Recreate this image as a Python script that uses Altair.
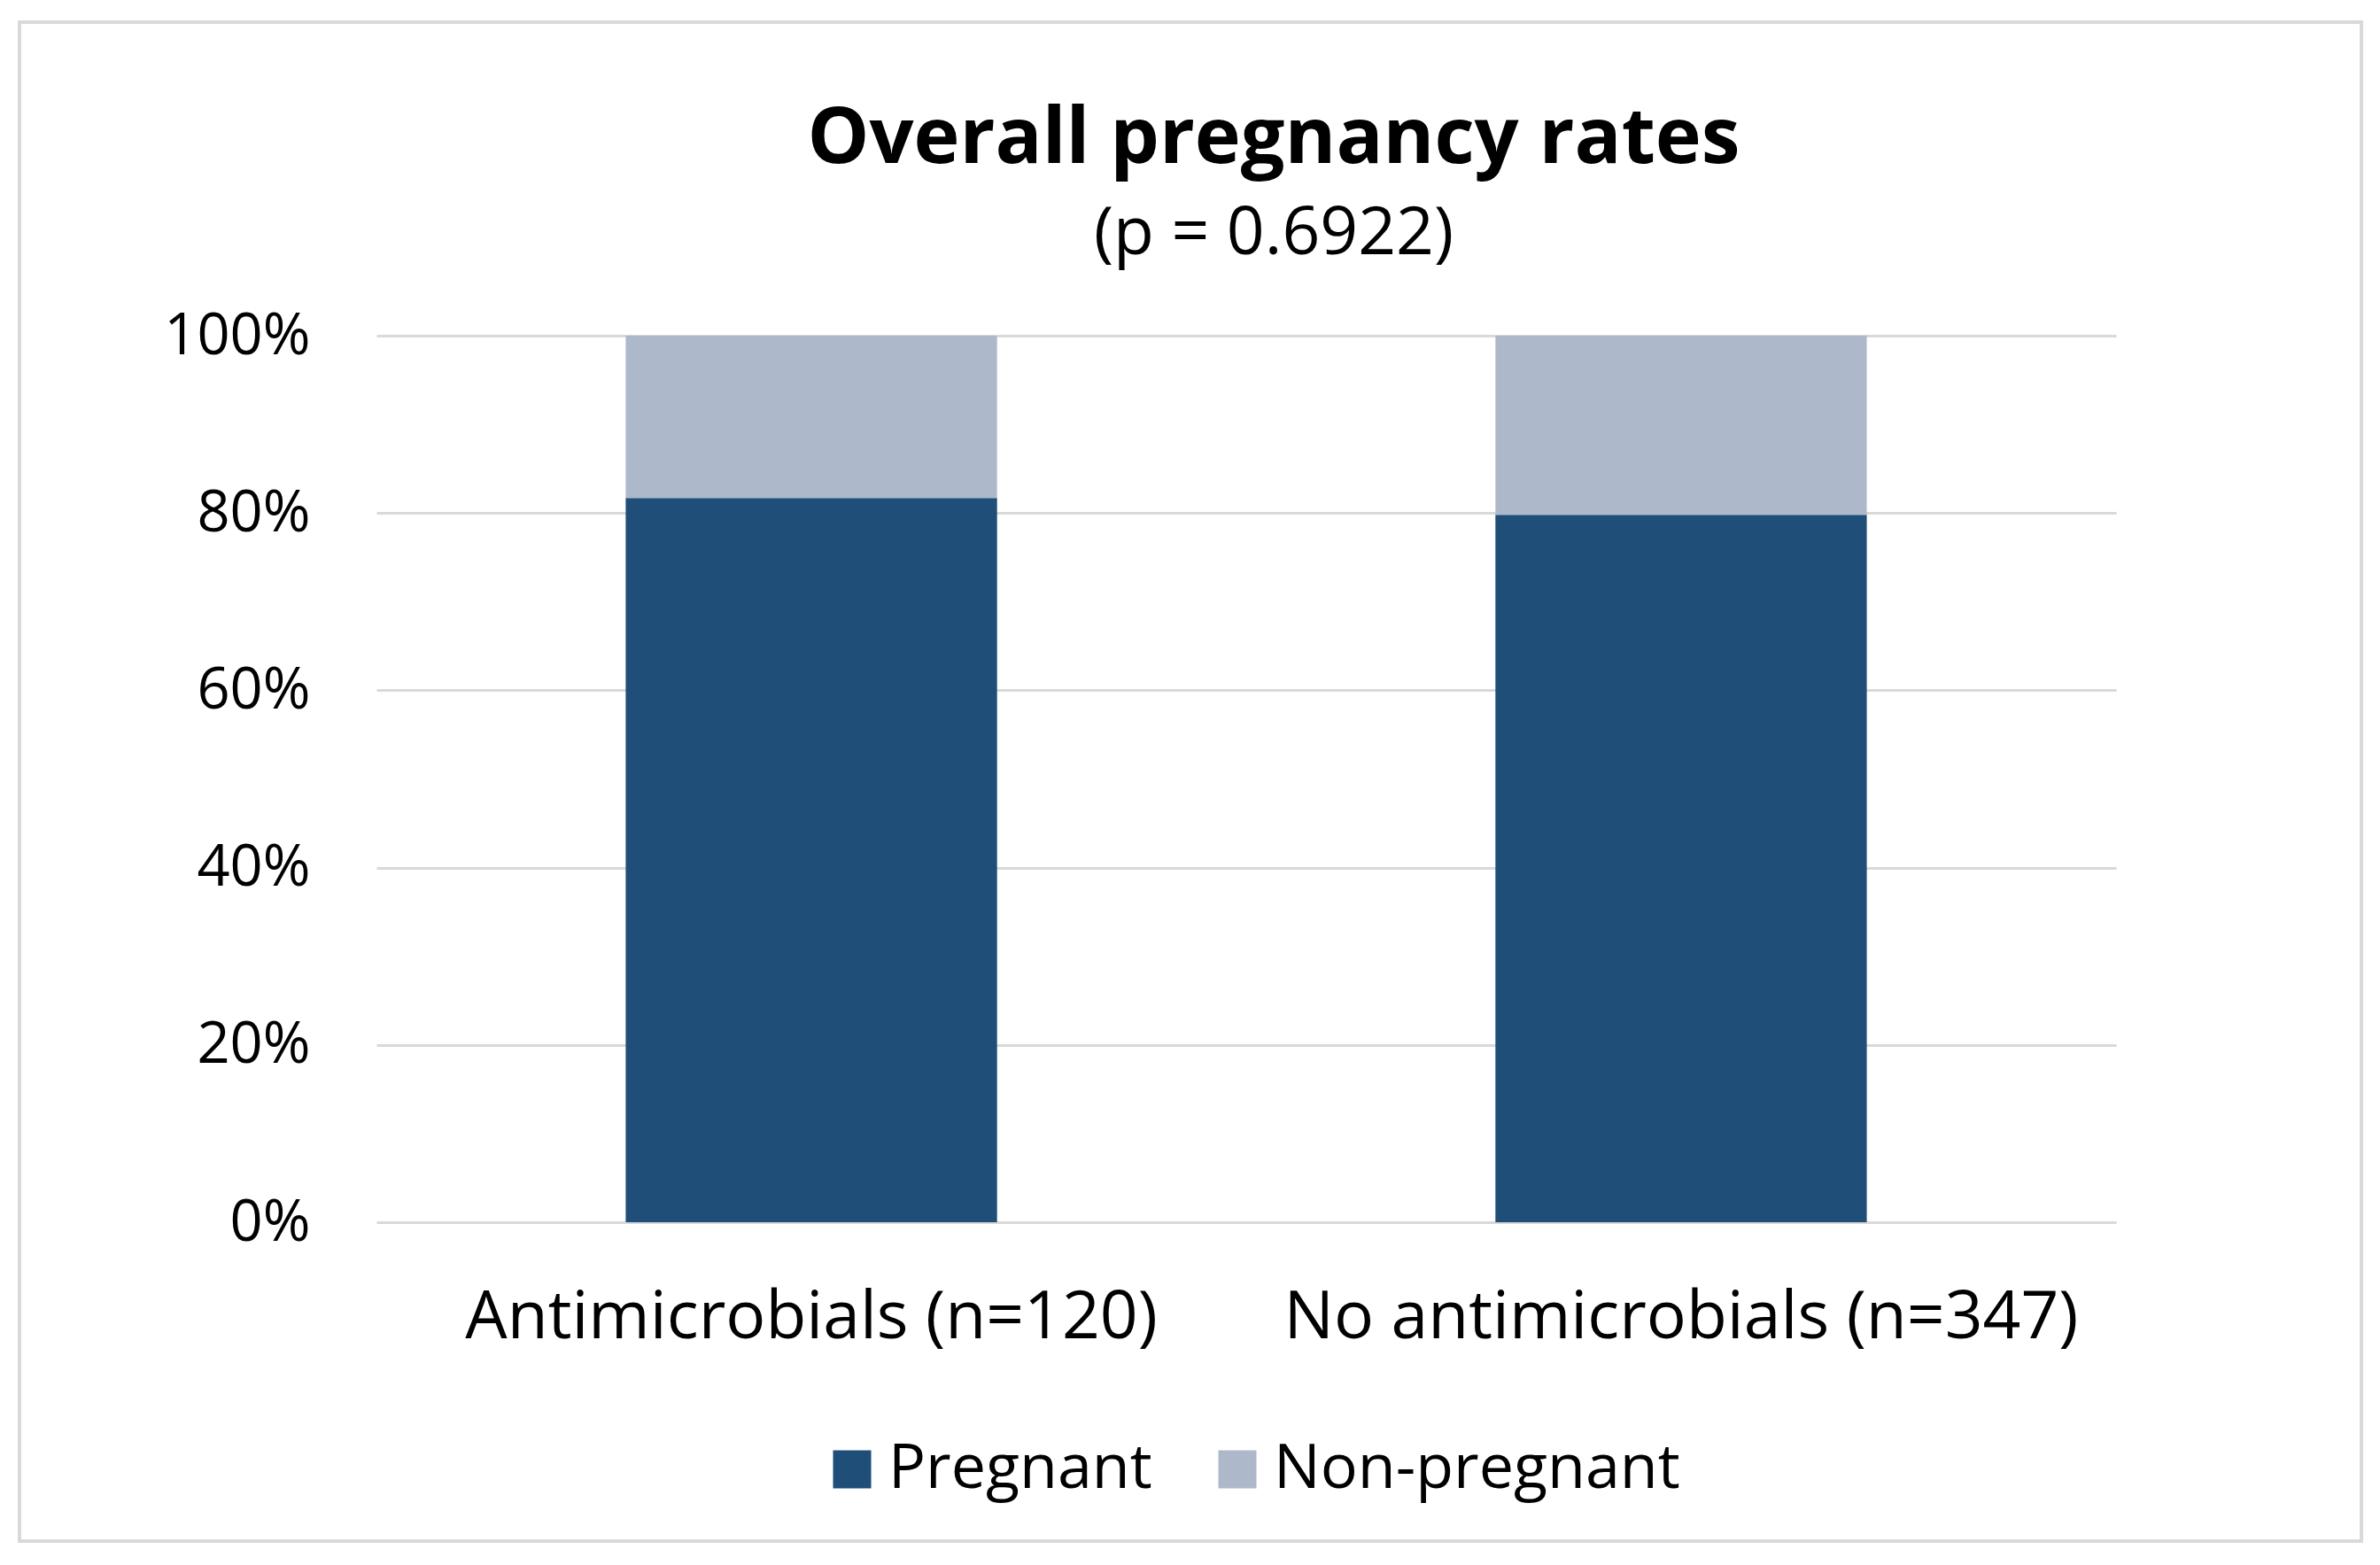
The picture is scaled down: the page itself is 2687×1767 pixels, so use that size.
import altair as alt
import pandas as pd

# ---- data ----
groups = ["Antimicrobials (n=120)", "No antimicrobials (n=347)"]
outcomes = ["Pregnant", "Non-pregnant"]
pregnant = [0.817, 0.798]
non_pregnant = [0.183, 0.202]
colors = ["#1F4E79", "#ADB9CA"]
y_ticks = [0, 0.2, 0.4, 0.6, 0.8, 1.0]
title_text = "Overall pregnancy rates"
subtitle_text = "(p = 0.6922)"

rows = []
for i, g in enumerate(groups):
    rows.append({"group": g, "outcome": outcomes[0], "share": pregnant[i], "ord": 0})
    rows.append({"group": g, "outcome": outcomes[1], "share": non_pregnant[i], "ord": 1})
df = pd.DataFrame(rows)

FONT = "Open Sans"
W, H = 1964, 1001

bars = alt.Chart(df).mark_bar().encode(
    x=alt.X("group:N", sort=groups, title=None,
            scale=alt.Scale(paddingInner=0.573, paddingOuter=0.2866),
            axis=alt.Axis(labelAngle=0, labelFontSize=75, labelFont=FONT, labelColor="#000000",
                          labelPadding=71, ticks=False, tickSize=0, domain=False, grid=False,
                          labelBaseline="top", labelLimit=0)),
    y=alt.Y("share:Q", stack="zero", title=None,
            scale=alt.Scale(domain=[0, 1], nice=False),
            axis=alt.Axis(values=y_ticks, format=".0%", labelFontSize=65, labelFont=FONT,
                          labelColor="#000000", labelPadding=75, ticks=False, tickSize=0,
                          domain=False, grid=True, gridColor="#D9D9D9", gridWidth=3,
                          labelLimit=0)),
    color=alt.Color("outcome:N", sort=outcomes,
                    scale=alt.Scale(domain=outcomes, range=colors),
                    legend=alt.Legend(title=None, orient="none", direction="horizontal",
                                      legendX=502, legendY=1245, symbolType="square",
                                      symbolSize=1849, symbolStrokeWidth=0, labelFontSize=70,
                                      labelFont=FONT, labelColor="#000000", labelOffset=6,
                                      columnPadding=61, padding=0, labelLimit=0)),
    order=alt.Order("ord:Q"),
)

title_df = pd.DataFrame({"t": [title_text]})
sub_df = pd.DataFrame({"t": [subtitle_text]})

title = alt.Chart(title_df).mark_text(font=FONT, fontSize=88, fontWeight="bold", color="#000000",
                                      align="center", baseline="alphabetic").encode(
    text="t:N", x=alt.value(1013), y=alt.value(-195))
subtitle = alt.Chart(sub_df).mark_text(font=FONT, fontSize=75, color="#000000",
                                       align="center", baseline="alphabetic").encode(
    text="t:N", x=alt.value(1013), y=alt.value(-92))

frame = alt.Chart(title_df).mark_rect(fill=None, stroke="#D9D9D9", strokeWidth=4).encode(
    x=alt.value(-403), x2=alt.value(2241), y=alt.value(-354), y2=alt.value(1361))

chart = alt.layer(frame, bars, title, subtitle).properties(
    width=W, height=H,
    padding={"left": 417, "top": 371, "right": 290, "bottom": 372},
    autosize=alt.AutoSizeParams(type="none"),
    background="#FFFFFF",
).configure_view(stroke=None)

chart.save("out.html", embed_options={"renderer": "svg", "actions": False})
